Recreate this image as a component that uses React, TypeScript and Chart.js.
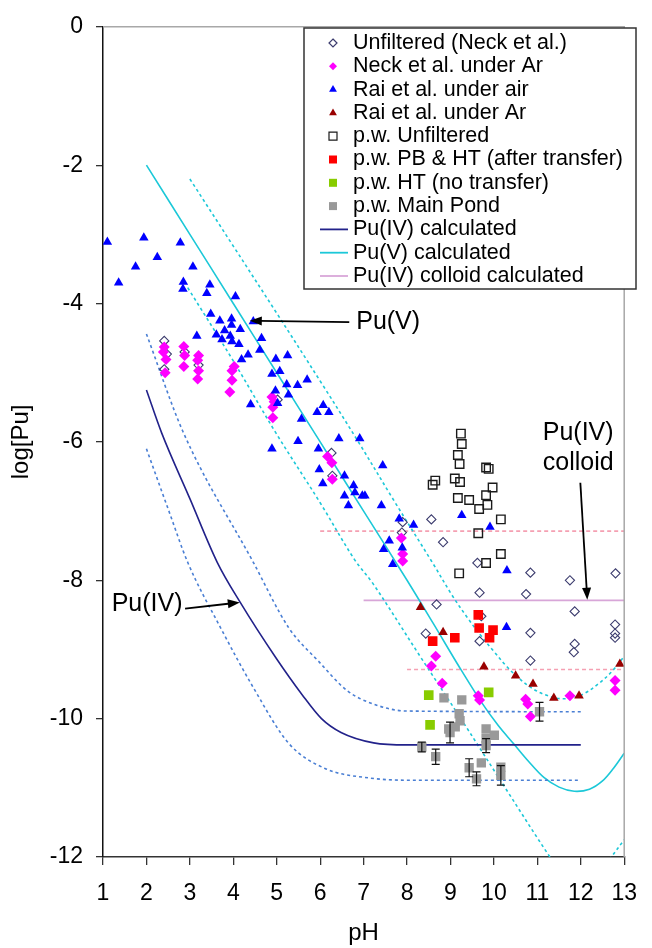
import { useEffect, useRef } from 'react';
import { Chart, registerables } from 'chart.js';

Chart.register(...registerables);

const FONT = '"Liberation Sans", Arial, Helvetica, sans-serif';

type Pt = [number, number];

// ---------- scatter series (pH, log[Pu]) ----------
const unfilteredNeck: Pt[] = [
  [2.41, -4.54], [2.47, -4.73], [2.41, -4.95], [2.88, -4.7], [3.2, -4.89], [5.02, -5.39],
  [6.26, -6.16], [6.28, -6.49], [7.9, -7.16], [7.88, -7.31], [8.56, -7.12], [8.83, -7.45],
  [8.68, -8.35], [8.43, -8.77], [9.62, -7.75], [9.67, -8.18], [9.67, -8.88], [9.71, -8.52],
  [10.84, -7.89], [10.74, -8.2], [10.84, -8.76], [10.84, -9.16], [11.75, -8.0], [11.86, -8.45],
  [11.86, -8.92], [11.84, -9.04], [12.8, -7.9], [12.79, -8.64], [12.79, -8.77], [12.79, -8.83],
];

const neckAr: Pt[] = [
  [2.41, -4.63], [2.39, -4.7], [2.45, -4.81], [2.43, -5.0], [2.86, -4.62], [2.88, -4.75],
  [2.86, -4.91], [3.2, -4.75], [3.18, -4.82], [3.2, -4.97], [3.18, -5.09], [4.02, -4.91],
  [3.97, -4.97], [3.97, -5.11], [3.92, -5.28], [4.89, -5.35], [4.94, -5.42], [4.91, -5.5],
  [4.91, -5.65], [6.17, -6.21], [6.27, -6.3], [6.28, -6.54], [7.87, -7.39], [7.9, -7.62],
  [7.9, -7.72], [8.66, -9.1], [8.56, -9.24], [8.81, -9.49], [9.64, -9.67], [9.67, -9.73],
  [10.73, -9.72], [10.78, -9.79], [10.84, -9.97], [11.75, -9.67], [12.79, -9.45], [12.79, -9.59],
];

const raiAir: Pt[] = [
  [1.1, -3.11], [1.94, -3.05], [1.36, -3.7], [1.75, -3.47], [2.25, -3.33], [2.78, -3.12],
  [3.07, -3.47], [2.85, -3.69], [2.84, -3.79], [3.46, -3.73], [3.39, -3.85], [4.05, -3.9],
  [3.48, -4.15], [3.69, -4.25], [3.96, -4.22], [3.96, -4.31], [3.8, -4.39], [4.16, -4.37],
  [3.61, -4.45], [3.74, -4.52], [3.93, -4.47], [3.97, -4.55], [4.13, -4.59], [4.46, -4.26],
  [3.16, -4.47], [4.65, -4.5], [4.61, -4.67], [4.34, -4.74], [4.19, -4.81], [4.98, -4.8],
  [5.25, -4.75], [4.89, -5.02], [5.07, -4.98], [5.23, -5.17], [5.48, -5.18], [5.7, -5.1],
  [4.97, -5.26], [5.27, -5.32], [4.4, -5.46], [5.02, -5.44], [5.93, -5.57], [5.57, -5.67],
  [6.07, -5.47], [6.2, -5.57], [6.43, -5.95], [6.91, -5.95], [5.49, -5.99], [4.89, -6.1],
  [5.96, -6.1], [7.44, -6.34], [5.98, -6.4], [6.06, -6.6], [6.56, -6.49], [6.77, -6.63],
  [6.8, -6.73], [6.56, -6.78], [6.97, -6.78], [7.03, -6.78], [6.65, -6.92], [7.41, -6.92],
  [7.82, -7.11], [8.15, -7.2], [7.59, -7.43], [7.46, -7.55], [7.89, -7.53], [7.67, -7.77],
  [9.26, -7.06], [9.91, -7.23], [10.3, -7.86], [10.29, -8.68],
];

const raiAr: Pt[] = [
  [8.31, -8.39], [8.83, -8.75], [9.77, -9.25], [10.5, -9.38], [10.9, -9.5], [11.38, -9.7],
  [11.96, -9.67], [12.9, -9.21],
];

const pwUnfiltered: Pt[] = [
  [9.24, -5.88], [9.26, -6.03], [9.17, -6.19], [9.21, -6.32], [9.82, -6.37], [9.88, -6.39],
  [8.65, -6.56], [8.59, -6.62], [9.1, -6.53], [9.22, -6.58], [9.97, -6.66], [9.82, -6.77],
  [9.17, -6.81], [9.43, -6.84], [9.85, -6.91], [9.66, -6.97], [10.16, -7.12], [9.64, -7.32],
  [10.16, -7.62], [9.82, -7.75], [9.2, -7.9],
];

const pwPBHT: Pt[] = [
  [9.64, -8.5], [9.66, -8.69], [9.98, -8.72], [9.9, -8.83], [8.59, -8.88], [9.1, -8.83],
];

const pwHT: Pt[] = [[8.5, -9.66], [9.88, -9.62], [8.53, -10.09]];

const pwMainPond: Pt[] = [
  [8.85, -9.7], [9.26, -9.73], [9.2, -9.93], [9.22, -10.03], [9.11, -10.12], [8.96, -10.15],
  [8.99, -10.2], [9.82, -10.15], [10.01, -10.24], [9.82, -10.29], [9.82, -10.39], [8.34, -10.41],
  [8.66, -10.55], [9.43, -10.71], [9.71, -10.64], [9.6, -10.87], [10.16, -10.7], [10.16, -10.82],
  [11.05, -9.9],
];
const pwMainPondErr: number[] = [
  0, 0, 0, 0, 0, 0, 0.15, 0, 0, 0, 0.1, 0.07, 0.11, 0.13, 0, 0.1, 0, 0.14, 0.135,
];

// ---------- calculated curves ----------
const puIVCalc: Pt[] = [
  [2, -5.25], [2.35, -5.87], [3, -6.82], [3.63, -7.74], [4.16, -8.32], [4.98, -9.12],
  [5.58, -9.65], [6.03, -10.0], [6.48, -10.2], [7.23, -10.35], [8, -10.38], [12, -10.38],
];
const puIVUpper: Pt[] = [
  [2, -4.44], [2.84, -5.85], [4.46, -7.74], [5.28, -8.69], [5.96, -9.17], [6.63, -9.6],
  [7.23, -9.79], [7.98, -9.89], [12, -9.9],
];
const puIVLower: Pt[] = [
  [2, -6.1], [2.5, -6.97], [2.95, -7.74], [3.71, -8.69], [4.46, -9.55], [5.28, -10.36],
  [6.11, -10.72], [7.16, -10.86], [8, -10.89], [12, -10.89],
];
const puVCalc: Pt[] = [
  [2, -2], [3, -3], [4, -4], [5, -5], [6, -6], [7, -7], [8, -8], [8.6, -8.62], [9.2, -9.25],
  [9.7, -9.75], [10.1, -10.1], [10.45, -10.36], [10.8, -10.62], [11.15, -10.85], [11.5, -10.99],
  [11.85, -11.05], [12.2, -11.02], [12.5, -10.9], [12.75, -10.72], [13, -10.5],
];
const puVUpper: Pt[] = [
  [3, -2.2], [4, -3.17], [5, -4.14], [6, -5.12], [6.85, -5.97], [7.7, -6.85], [8.58, -7.74],
  [9.04, -8.22], [9.4, -8.55], [9.7, -8.8], [10.0, -9.03], [10.3, -9.25], [10.6, -9.43],
  [10.9, -9.57], [11.2, -9.66], [11.5, -9.71], [11.8, -9.7], [12.1, -9.63], [12.4, -9.5],
  [12.7, -9.33], [13, -9.1],
];
const puVLower: Pt[] = [
  [2.95, -3.77], [4, -4.83], [4.98, -5.87], [6, -6.88], [6.78, -7.69], [7.24, -8.07],
  [8.25, -9.05], [9.27, -10.03], [10.28, -11.02], [11.29, -12.0], [11.7, -12.35],
  [12.2, -12.42], [12.68, -12.02], [13, -11.75],
];
const colloidCalc: Pt[] = [[7, -8.29], [13, -8.29]];
const colloidUpper: Pt[] = [[6, -7.29], [13, -7.29]];
const colloidLower: Pt[] = [[8, -9.29], [13, -9.29]];

// ---------- labels ----------
const legendLabels = [
  'Unfiltered (Neck et al.)',
  'Neck et al. under Ar',
  'Rai et al. under air',
  'Rai et al. under Ar',
  'p.w. Unfiltered',
  'p.w. PB & HT (after transfer)',
  'p.w. HT (no transfer)',
  'p.w. Main Pond',
  'Pu(IV) calculated',
  'Pu(V) calculated',
  'Pu(IV) colloid calculated',
];
const xTitle = 'pH';
const yTitle = 'log[Pu]';

// annotation texts with anchor values in data units
const annotations = [
  { lines: ['Pu(V)'], x: 6.83, y: -4.27, align: 'left', from: [6.67, -4.27], to: [4.38, -4.25] },
  { lines: ['Pu(IV)'], x: 1.2, y: -8.35, align: 'left', from: [2.89, -8.41], to: [4.15, -8.32] },
  { lines: ['Pu(IV)', 'colloid'], x: 11.94, y: -5.87, align: 'center', from: [11.99, -6.59], to: [12.15, -8.28] },
];

// ---------- styles ----------
const C = {
  neckHollow: '#3c3c6e',
  magenta: '#ff00ff',
  blue: '#0000ff',
  darkRed: '#990000',
  hollowSq: '#1a1a1a',
  red: '#ff0000',
  green: '#88cc00',
  gray: '#999999',
  puIV: '#22228a',
  puIVDash: '#4a7fd4',
  cyan: '#1cc8d8',
  colloid: '#d8a6d8',
  colloidDash: '#f5a0b2',
};

const xy = (a: Pt[]) => a.map(([x, y]) => ({ x, y }));

type Kind = 'diamond' | 'triangle' | 'square' | 'line';
const legendStyle: { kind: Kind; fill: string | null; stroke: string | null }[] = [
  { kind: 'diamond', fill: null, stroke: C.neckHollow },
  { kind: 'diamond', fill: C.magenta, stroke: null },
  { kind: 'triangle', fill: C.blue, stroke: null },
  { kind: 'triangle', fill: C.darkRed, stroke: null },
  { kind: 'square', fill: null, stroke: C.hollowSq },
  { kind: 'square', fill: C.red, stroke: null },
  { kind: 'square', fill: C.green, stroke: null },
  { kind: 'square', fill: C.gray, stroke: null },
  { kind: 'line', fill: null, stroke: C.puIV },
  { kind: 'line', fill: null, stroke: C.cyan },
  { kind: 'line', fill: null, stroke: C.colloid },
];

function drawArrow(ctx: CanvasRenderingContext2D, x1: number, y1: number, x2: number, y2: number) {
  const ang = Math.atan2(y2 - y1, x2 - x1);
  const hl = 12;
  const hw = 4.5;
  ctx.save();
  ctx.strokeStyle = '#000';
  ctx.fillStyle = '#000';
  ctx.lineWidth = 1.8;
  ctx.beginPath();
  ctx.moveTo(x1, y1);
  ctx.lineTo(x2 - Math.cos(ang) * hl * 0.8, y2 - Math.sin(ang) * hl * 0.8);
  ctx.stroke();
  ctx.beginPath();
  ctx.moveTo(x2, y2);
  ctx.lineTo(x2 - Math.cos(ang) * hl - Math.sin(ang) * hw, y2 - Math.sin(ang) * hl + Math.cos(ang) * hw);
  ctx.lineTo(x2 - Math.cos(ang) * hl + Math.sin(ang) * hw, y2 - Math.sin(ang) * hl - Math.cos(ang) * hw);
  ctx.closePath();
  ctx.fill();
  ctx.restore();
}

const customPlugin = {
  id: 'custom',
  afterDatasetsDraw(chart: any) {
    const { ctx, chartArea, scales } = chart;
    const xs = scales.x;
    const ys = scales.y;
    // frame (top & right)
    ctx.save();
    ctx.strokeStyle = '#a8a8a8';
    ctx.lineWidth = 1.5;
    ctx.beginPath();
    ctx.moveTo(chartArea.left, chartArea.top);
    ctx.lineTo(chartArea.right, chartArea.top);
    ctx.lineTo(chartArea.right, chartArea.bottom);
    ctx.stroke();
    ctx.restore();

    // error bars for main pond
    ctx.save();
    ctx.strokeStyle = '#111';
    ctx.lineWidth = 1.2;
    pwMainPond.forEach(([x, y], i) => {
      const e = pwMainPondErr[i];
      if (!e) return;
      const px = xs.getPixelForValue(x);
      const pt = ys.getPixelForValue(y + e);
      const pb = ys.getPixelForValue(y - e);
      ctx.beginPath();
      ctx.moveTo(px, pt);
      ctx.lineTo(px, pb);
      ctx.moveTo(px - 4, pt);
      ctx.lineTo(px + 4, pt);
      ctx.moveTo(px - 4, pb);
      ctx.lineTo(px + 4, pb);
      ctx.stroke();
    });
    ctx.restore();

    // annotations
    ctx.save();
    ctx.font = `25px ${FONT}`;
    ctx.fillStyle = '#000';
    ctx.textBaseline = 'middle';
    annotations.forEach((a) => {
      ctx.textAlign = a.align as CanvasTextAlign;
      const px = xs.getPixelForValue(a.x);
      const py = ys.getPixelForValue(a.y);
      a.lines.forEach((t, i) => ctx.fillText(t, px, py + i * 30));
      drawArrow(
        ctx,
        xs.getPixelForValue(a.from[0]),
        ys.getPixelForValue(a.from[1]),
        xs.getPixelForValue(a.to[0]),
        ys.getPixelForValue(a.to[1]),
      );
    });
    ctx.restore();
  },
  afterDraw(chart: any) {
    const { ctx } = chart;
    // legend box
    const bx = 304;
    const by = 28;
    const bw = 332;
    const bh = 261;
    ctx.save();
    ctx.fillStyle = '#fff';
    ctx.fillRect(bx, by, bw, bh);
    ctx.strokeStyle = '#333';
    ctx.lineWidth = 1.5;
    ctx.strokeRect(bx, by, bw, bh);
    ctx.font = `21.5px ${FONT}`;
    ctx.textBaseline = 'middle';
    ctx.textAlign = 'left';
    legendLabels.forEach((label, i) => {
      const y = by + 15 + i * 23.3;
      const mx = 333;
      const st = legendStyle[i];
      ctx.beginPath();
      if (st.kind === 'diamond') {
        const r = 4;
        ctx.moveTo(mx, y - r);
        ctx.lineTo(mx + r, y);
        ctx.lineTo(mx, y + r);
        ctx.lineTo(mx - r, y);
        ctx.closePath();
      } else if (st.kind === 'triangle') {
        const r = 4.5;
        ctx.moveTo(mx, y - r);
        ctx.lineTo(mx + r * 0.87, y + r * 0.5);
        ctx.lineTo(mx - r * 0.87, y + r * 0.5);
        ctx.closePath();
      } else if (st.kind === 'square') {
        ctx.rect(mx - 4, y - 4, 8, 8);
      } else {
        ctx.moveTo(320, y);
        ctx.lineTo(348, y);
      }
      if (st.fill) {
        ctx.fillStyle = st.fill;
        ctx.fill();
      }
      if (st.stroke) {
        ctx.strokeStyle = st.stroke;
        ctx.lineWidth = st.kind === 'line' ? 1.8 : 1.2;
        ctx.stroke();
      }
      ctx.fillStyle = '#000';
      ctx.fillText(label, 353, y);
    });
    ctx.restore();
  },
};

export default function App() {
  const ref = useRef<HTMLCanvasElement | null>(null);

  useEffect(() => {
    if (!ref.current) return;
    const scatter = (data: Pt[], style: string, r: number, fill: string, stroke: string, bw: number, order: number) => ({
      data: xy(data),
      pointStyle: style,
      pointRadius: r,
      pointHoverRadius: r,
      backgroundColor: fill,
      borderColor: stroke,
      pointBorderWidth: bw,
      showLine: false,
      order,
    });
    const line = (data: Pt[], color: string, dash: number[], smooth: 'monotone' | 'bezier' = 'monotone') => ({
      data: xy(data),
      showLine: true,
      pointRadius: 0,
      pointHoverRadius: 0,
      borderColor: color,
      backgroundColor: color,
      borderWidth: 1.6,
      borderDash: dash,
      cubicInterpolationMode: smooth === 'monotone' ? 'monotone' : 'default',
      tension: smooth === 'monotone' ? 0 : 0.35,
      fill: false,
      order: 50,
    });

    const chart = new Chart(ref.current, {
      type: 'scatter',
      data: {
        datasets: [
          scatter(unfilteredNeck, 'rectRot', 4.6, 'rgba(0,0,0,0)', C.neckHollow, 1.1, 20),
          scatter(neckAr, 'rectRot', 5.5, C.magenta, C.magenta, 0, 19),
          scatter(raiAir, 'triangle', 5.5, C.blue, C.blue, 0, 18),
          scatter(raiAr, 'triangle', 5.5, C.darkRed, C.darkRed, 0, 17),
          scatter(pwUnfiltered, 'rect', 6, 'rgba(0,0,0,0)', C.hollowSq, 1.4, 16),
          scatter(pwPBHT, 'rect', 6.8, C.red, C.red, 0, 15),
          scatter(pwHT, 'rect', 6.8, C.green, C.green, 0, 14),
          scatter(pwMainPond, 'rect', 6.6, C.gray, C.gray, 0, 13),
          line(puIVCalc, C.puIV, []),
          line(puIVUpper, C.puIVDash, [3, 3]),
          line(puIVLower, C.puIVDash, [3, 3]),
          line(puVCalc, C.cyan, [], 'bezier'),
          line(puVUpper, C.cyan, [3, 3], 'bezier'),
          line(puVLower, C.cyan, [3, 3], 'bezier'),
          line(colloidCalc, C.colloid, []),
          line(colloidUpper, C.colloidDash, [4, 3]),
          line(colloidLower, C.colloidDash, [4, 3]),
        ] as any,
      },
      options: {
        animation: false,
        responsive: false,
        devicePixelRatio: 1,
        layout: { padding: { top: 20, right: 16, left: 0, bottom: 0 } },
        plugins: { legend: { display: false }, tooltip: { enabled: false } },
        scales: {
          x: {
            type: 'linear',
            min: 1,
            max: 13,
            ticks: { stepSize: 1, font: { family: FONT, size: 23 }, color: '#000', padding: 15, maxRotation: 0, autoSkip: false },
            grid: { drawOnChartArea: false, tickLength: 8, color: '#333', lineWidth: 1.3 },
            border: { color: '#333', width: 1.5 },
            title: { display: true, text: xTitle, font: { family: FONT, size: 24 }, color: '#000', padding: { top: 0, bottom: 0 } },
            afterFit: (s: any) => { s.height = 91; },
          },
          y: {
            type: 'linear',
            min: -12,
            max: 0,
            ticks: { stepSize: 2, font: { family: FONT, size: 23 }, color: '#000', padding: 13 },
            grid: { drawOnChartArea: false, tickLength: 7, color: '#333', lineWidth: 1.3 },
            border: { color: '#111', width: 1.5 },
            title: { display: true, text: yTitle, font: { family: FONT, size: 24 }, color: '#000', padding: { top: 7, bottom: 0 } },
            afterFit: (s: any) => { s.width = 103; },
          },
        },
      } as any,
      plugins: [customPlugin],
    });
    return () => chart.destroy();
  }, []);

  return (
    <div style={{ position: 'absolute', left: 0, top: 0, width: 652, height: 948, background: '#fff' }}>
      <canvas ref={ref} width={652} height={948} style={{ display: 'block' }} />
    </div>
  );
}
